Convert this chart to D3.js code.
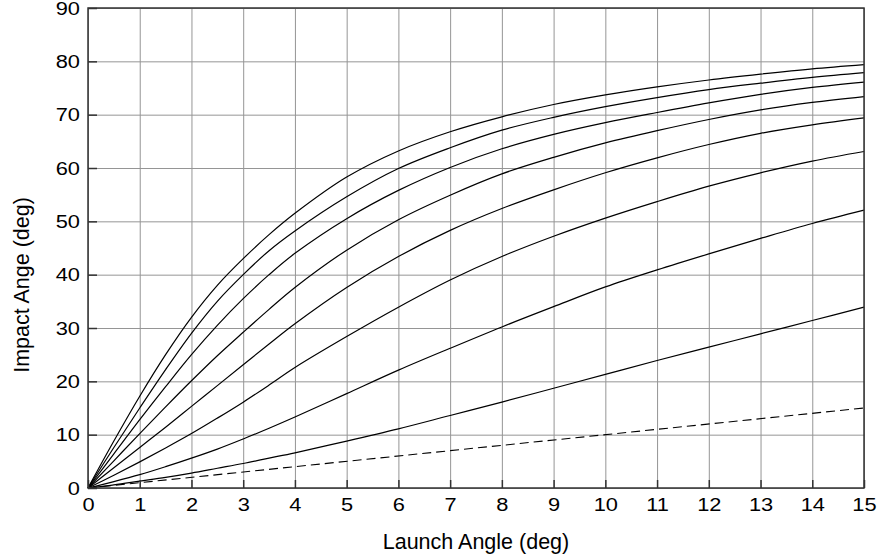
<html>
<head>
<meta charset="utf-8">
<script src="https://cdn.jsdelivr.net/npm/d3@7"></script>
<style>
  body { margin: 0; background: #fff; }
  text { font-family: "Liberation Sans", Arial, sans-serif; }
</style>
</head>
<body>
<script>
// launch angle samples (deg)
var launchAngles = [0, 0.5, 1, 1.5, 2, 2.5, 3, 3.5, 4, 5, 6, 7, 8, 9, 10, 11, 12, 13, 14, 15];

// impact angle curves, top to bottom (deg)
var curve1 = [0, 8.8, 17.2, 25, 32, 38, 43, 47.5, 51.5, 58.3, 63.2, 66.8, 69.6, 71.9, 73.7, 75.2, 76.5, 77.6, 78.6, 79.4];
var curve2 = [0, 7.6, 15, 22.2, 29, 35, 40, 44.5, 48.2, 54.6, 59.9, 63.8, 67.1, 69.5, 71.5, 73.2, 74.7, 75.9, 77, 77.9];
var curve3 = [0, 6.4, 12.8, 19, 25, 30.5, 35.5, 40, 44, 50.5, 55.8, 60.1, 63.6, 66.3, 68.5, 70.4, 72.2, 73.8, 75.1, 76.1];
var curve4 = [0, 5.1, 10.2, 15.2, 20.1, 24.8, 29.2, 33.5, 37.6, 44.6, 50.3, 54.9, 58.9, 62, 64.7, 67, 69.1, 70.9, 72.3, 73.4];
var curve5 = [0, 3.8, 7.6, 11.4, 15.3, 19.2, 23.1, 27, 30.8, 37.6, 43.4, 48.3, 52.4, 55.9, 59.1, 61.9, 64.4, 66.5, 68.1, 69.4];
var curve6 = [0, 2.4, 4.9, 7.5, 10.2, 13.1, 16.1, 19.3, 22.6, 28.4, 33.9, 39, 43.4, 47.2, 50.6, 53.7, 56.6, 59.1, 61.3, 63.1];
var curve7 = [0, 1.2, 2.5, 4, 5.6, 7.3, 9.2, 11.2, 13.3, 17.7, 22.1, 26.2, 30.2, 34, 37.7, 40.9, 43.9, 46.8, 49.6, 52.1];
var curve8 = [0, 0.6, 1.3, 2, 2.8, 3.7, 4.6, 5.6, 6.6, 8.8, 11.1, 13.6, 16.1, 18.7, 21.3, 23.9, 26.4, 28.9, 31.4, 33.9];
// reference line (impact = launch), dashed
var refX = [0, 15];
var refY = [0, 15];

var xTicks = d3.range(0, 16, 1);
var yTicks = d3.range(0, 91, 10);

var W = 878, H = 560;
var margin = { top: 8, right: 14, bottom: 72, left: 88 };
var width = W - margin.left - margin.right,
    height = H - margin.top - margin.bottom;
var stretch = 1.18; // tick labels look horizontally widened

var svg = d3.select("body").append("svg")
    .attr("width", W)
    .attr("height", H);

var g = svg.append("g")
    .attr("transform", "translate(" + margin.left + "," + margin.top + ")");

var xScale = d3.scaleLinear().domain([0, 15]).range([0, width]);
var yScale = d3.scaleLinear().domain([0, 90]).range([height, 0]);

// *** grid
g.append("g")
    .attr("transform", "translate(0," + height + ")")
    .call(d3.axisBottom(xScale).tickValues(xTicks).tickSize(-height).tickFormat(""))
    .call(function(s){ s.select(".domain").remove(); })
    .selectAll("line").attr("stroke", "#959595").attr("stroke-width", 1);

g.append("g")
    .call(d3.axisLeft(yScale).tickValues(yTicks).tickSize(-width).tickFormat(""))
    .call(function(s){ s.select(".domain").remove(); })
    .selectAll("line").attr("stroke", "#959595").attr("stroke-width", 1);

// *** curves
var series = [curve1, curve2, curve3, curve4, curve5, curve6, curve7, curve8];
var line = d3.line()
    .x(function(d){ return xScale(d[0]); })
    .y(function(d){ return yScale(d[1]); })
    .curve(d3.curveCatmullRom.alpha(0.5));

series.forEach(function(vals){
  g.append("path")
      .datum(launchAngles.map(function(x, i){ return [x, vals[i]]; }))
      .attr("fill", "none")
      .attr("stroke", "#000")
      .attr("stroke-width", 1.2)
      .attr("d", line);
});

g.append("path")
    .datum(refX.map(function(x, i){ return [x, refY[i]]; }))
    .attr("fill", "none")
    .attr("stroke", "#000")
    .attr("stroke-width", 1.1)
    .attr("stroke-dasharray", "9,5")
    .attr("d", d3.line().x(function(d){ return xScale(d[0]); }).y(function(d){ return yScale(d[1]); }));

// *** frame
g.append("rect")
    .attr("width", width)
    .attr("height", height)
    .attr("fill", "none")
    .attr("stroke", "#333")
    .attr("stroke-width", 1.5);

// *** axes with inward ticks
var xAxis = g.append("g")
    .attr("transform", "translate(0," + height + ")")
    .call(d3.axisBottom(xScale).tickValues(xTicks).tickSizeInner(-8).tickSizeOuter(0).tickPadding(10).tickFormat(d3.format("d")));
var yAxis = g.append("g")
    .call(d3.axisLeft(yScale).tickValues(yTicks).tickSizeInner(-9).tickSizeOuter(0).tickPadding(8).tickFormat(d3.format("d")));

[xAxis, yAxis].forEach(function(ax){
  ax.select(".domain").remove();
  ax.selectAll("line").attr("stroke", "#333").attr("stroke-width", 1.5);
  ax.selectAll("text")
      .attr("fill", "#000")
      .attr("font-size", "18.5px")
      .attr("font-family", "'Liberation Sans', Arial, sans-serif");
});
xAxis.selectAll("text").attr("transform", "scale(" + stretch + ",1)");
yAxis.selectAll("text")
    .attr("x", -8 / stretch)
    .attr("dy", "0.34em")
    .attr("transform", "scale(" + stretch + ",1)");

// *** titles
svg.append("text")
    .attr("x", margin.left + width / 2)
    .attr("y", 549)
    .attr("text-anchor", "middle")
    .attr("font-size", "21.5px")
    .text("Launch Angle (deg)");

svg.append("text")
    .attr("transform", "translate(29,285) rotate(-90)")
    .attr("text-anchor", "middle")
    .attr("font-size", "21.5px")
    .text("Impact Ange (deg)");
</script>
</body>
</html>
